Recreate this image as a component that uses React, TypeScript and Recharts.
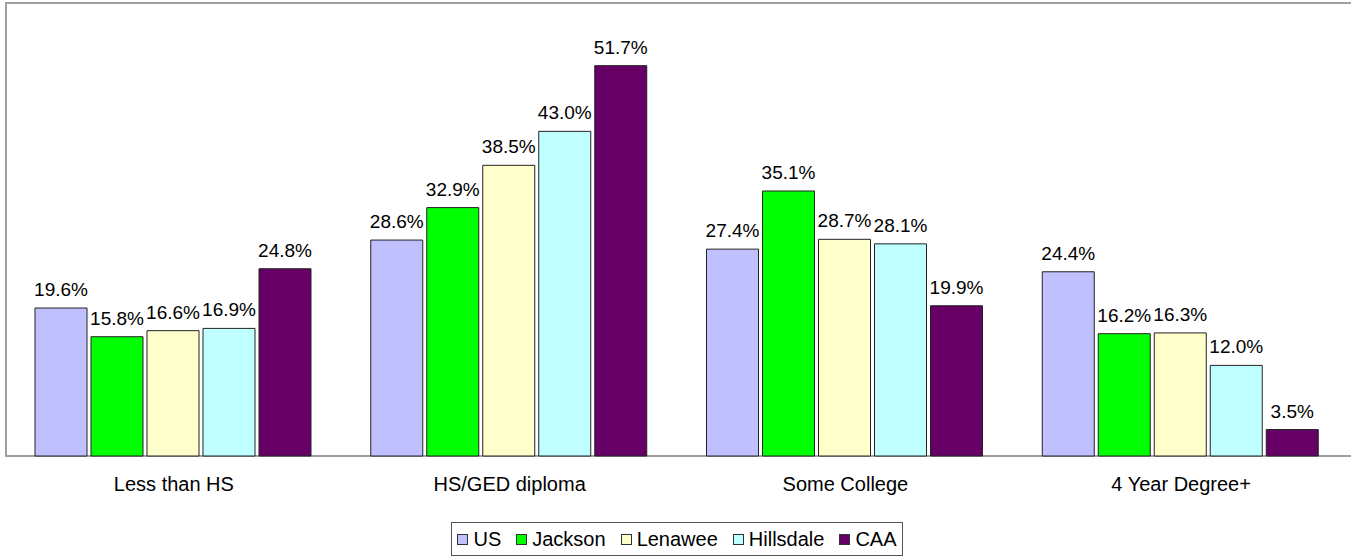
import React from 'react';
import {
  BarChart,
  Bar,
  XAxis,
  YAxis,
  Legend,
  LabelList,
  ReferenceArea
} from 'recharts';

// categories and series
const categories = ['Less than HS', 'HS/GED diploma', 'Some College', '4 Year Degree+'];
const usValues = [19.6, 28.6, 27.4, 24.4];
const jacksonValues = [15.8, 32.9, 35.1, 16.2];
const lenaweeValues = [16.6, 38.5, 28.7, 16.3];
const hillsdaleValues = [16.9, 43.0, 28.1, 12.0];
const caaValues = [24.8, 51.7, 19.9, 3.5];

const seriesNames = ['US', 'Jackson', 'Lenawee', 'Hillsdale', 'CAA'];
const seriesValues = [usValues, jacksonValues, lenaweeValues, hillsdaleValues, caaValues];
const COLORS = ['#C0C0FF', '#00FF00', '#FFFFCC', '#C0FFFF', '#660066'];

const edgeTicks = [0, 1, 2, 3, 4];

const data = categories.map((name, i) => {
  const row: Record<string, string | number> = { name };
  seriesNames.forEach((s, j) => {
    row[s] = seriesValues[j][i];
  });
  return row;
});

const FONT = 'Arial, "Liberation Sans", sans-serif';

const LegendBox = (props: any) => {
  // keep the series order instead of the default alphabetical one
  const items = [...(props.payload || [])].sort(
    (a: any, b: any) => seriesNames.indexOf(a.value) - seriesNames.indexOf(b.value)
  );
  return (
    <div
      style={{
        border: '1px solid #555',
        height: 34,
        boxSizing: 'border-box',
        display: 'flex',
        alignItems: 'center',
        justifyContent: 'center',
        fontFamily: FONT,
        fontSize: 20,
        color: '#000',
        background: '#fff'
      }}
    >
      {items.map((it: any, i: number) => (
        <span
          key={it.value}
          style={{ display: 'flex', alignItems: 'center', marginRight: i < items.length - 1 ? 15 : 0 }}
        >
          <span
            style={{
              display: 'inline-block',
              width: 9,
              height: 9,
              background: it.color,
              border: '1px solid #333',
              marginRight: 5
            }}
          />
          {it.value}
        </span>
      ))}
    </div>
  );
};

export default function App() {
  return (
    <div style={{ position: 'absolute', left: 0, top: 0, width: 1351, height: 559, background: '#fff' }}>
      <BarChart
        width={1351}
        height={559}
        data={data}
        margin={{ top: 3, right: 2, left: 6, bottom: 63 }}
        barCategoryGap={29}
        barGap={4}
      >
        <YAxis hide domain={[0, 60]} />
        <XAxis
          xAxisId="edge"
          type="number"
          domain={[0, 4]}
          ticks={edgeTicks}
          height={0}
          tickSize={6}
          tickFormatter={() => ''}
          axisLine={{ stroke: '#000' }}
          tickLine={{ stroke: '#000' }}
          allowDataOverflow
        />
        <XAxis
          dataKey="name"
          height={40}
          axisLine={false}
          tickLine={false}
          tickSize={6}
          tickMargin={15}
          tick={{ fill: '#000', fontSize: 20, fontFamily: FONT }}
        />
        <ReferenceArea
          xAxisId="edge"
          x1={0}
          x2={4}
          y1={0}
          y2={60}
          fill="none"
          stroke="#a0a0a0"
          strokeWidth={2}
          ifOverflow="extendDomain"
        />
        <Legend
          layout="horizontal"
          verticalAlign="middle"
          content={<LegendBox />}
          wrapperStyle={{ left: 451, top: 522, width: 452, height: 34 }}
        />
        {seriesNames.map((s, j) => (
          <Bar
            key={s}
            dataKey={s}
            name={s}
            fill={COLORS[j]}
            stroke="#222"
            strokeWidth={1}
            isAnimationActive={false}
          >
            <LabelList
              dataKey={s}
              position="top"
              offset={12}
              formatter={(v: any) => `${Number(v).toFixed(1)}%`}
              style={{ fill: '#000', fontSize: 19, fontFamily: FONT }}
            />
          </Bar>
        ))}
      </BarChart>
    </div>
  );
}
